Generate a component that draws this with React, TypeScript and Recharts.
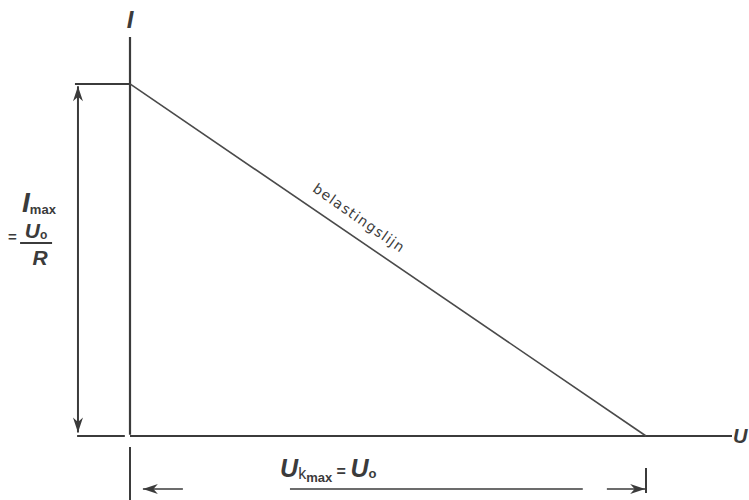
import { LineChart, Line, XAxis, YAxis, ReferenceLine, ReferenceDot } from 'recharts';

// load line: from short-circuit current (U = 0) to open-circuit voltage (I = 0)
const U0 = 12;
const IMAX = 15;
const loadU = [0, U0];
const loadI = [IMAX, 0];
const uDomain = [0, 14];
const iDomain = [0, 17];

const data = loadU.map((u, k) => ({ u, i: loadI[k] }));

const INK = '#3b3b3b';
const FONT = '"Liberation Sans", Arial, sans-serif';

// line with optional filled arrowheads at either end
const arrowLine = (start: boolean, end: boolean, width = 2) => (p: any) => {
  const { x1, y1, x2, y2 } = p;
  const len = Math.hypot(x2 - x1, y2 - y1) || 1;
  const ux = (x2 - x1) / len;
  const uy = (y2 - y1) / len;
  const head = (tx: number, ty: number, dx: number, dy: number) => {
    const L = 15, W = 5;
    const bx = tx - dx * L, by = ty - dy * L;
    const nx = tx - dx * L * 0.7, ny = ty - dy * L * 0.7;
    return `${tx},${ty} ${bx - dy * W},${by + dx * W} ${nx},${ny} ${bx + dy * W},${by - dx * W}`;
  };
  return (
    <g>
      <line x1={x1} y1={y1} x2={x2} y2={y2} stroke={INK} strokeWidth={width} />
      {start && <polygon points={head(x1, y1, -ux, -uy)} fill={INK} />}
      {end && <polygon points={head(x2, y2, ux, uy)} fill={INK} />}
    </g>
  );
};

const textAt = (render: (x: number, y: number) => any) => (p: any) => render(p.cx, p.cy);

export default function App() {
  return (
    <div style={{ position: 'absolute', left: 0, top: 0, background: '#fff' }}>
      <LineChart
        width={749}
        height={500}
        data={data}
        margin={{ top: 37, right: 17, bottom: 64, left: 130 }}
      >
        <XAxis dataKey="u" type="number" domain={uDomain} hide />
        <YAxis type="number" domain={iDomain} hide />

        {/* axes */}
        <ReferenceLine segment={[{ x: uDomain[0], y: 0 }, { x: uDomain[1], y: 0 }]} stroke={INK} strokeWidth={2.2} ifOverflow="visible" />
        <ReferenceLine segment={[{ x: 0, y: 0.05 }, { x: 0, y: iDomain[1] }]} stroke={INK} strokeWidth={2.2} ifOverflow="visible" />

        {/* axis extensions */}
        <ReferenceLine segment={[{ x: -1.23, y: 0 }, { x: -0.12, y: 0 }]} stroke={INK} strokeWidth={2.2} ifOverflow="visible" />
        <ReferenceLine segment={[{ x: 0, y: -0.47 }, { x: 0, y: -2.8 }]} stroke={INK} strokeWidth={2} ifOverflow="visible" />

        {/* Imax level and vertical dimension */}
        <ReferenceLine segment={[{ x: -1.28, y: IMAX }, { x: 0, y: IMAX }]} stroke={INK} strokeWidth={2} ifOverflow="visible" />
        <ReferenceLine
          segment={[{ x: -1.21, y: IMAX - 0.1 }, { x: -1.21, y: 0.15 }]}
          ifOverflow="visible"
          shape={arrowLine(true, true, 2)}
        />

        {/* horizontal dimension U_kmax */}
        <ReferenceLine segment={[{ x: 0.3, y: -2.26 }, { x: 1.23, y: -2.26 }]} ifOverflow="visible" shape={arrowLine(true, false, 1.6)} />
        <ReferenceLine segment={[{ x: 3.72, y: -2.26 }, { x: 10.53, y: -2.26 }]} stroke={INK} strokeWidth={1.6} ifOverflow="visible" />
        <ReferenceLine segment={[{ x: 11.09, y: -2.26 }, { x: U0 - 0.02, y: -2.26 }]} ifOverflow="visible" shape={arrowLine(false, true, 1.6)} />
        <ReferenceLine segment={[{ x: U0, y: -1.36 }, { x: U0, y: -2.43 }]} stroke={INK} strokeWidth={2} ifOverflow="visible" />

        <Line
          dataKey="i"
          stroke="#4a4a4a"
          strokeWidth={1.6}
          dot={false}
          isAnimationActive={false}
        />

        {/* axis names */}
        <ReferenceDot x={0} y={17.38} r={1} ifOverflow="visible" shape={textAt((x, y) => (
          <text x={x} y={y} textAnchor="middle" fontFamily={FONT} fontStyle="italic" fontWeight="bold" fontSize={24} fill={INK}>I</text>
        ))} />
        <ReferenceDot x={14} y={-0.3} r={1} ifOverflow="visible" shape={textAt((x, y) => (
          <text x={x + 1} y={y} fontFamily={FONT} fontStyle="italic" fontWeight="bold" fontSize={20} fill={INK}>U</text>
        ))} />

        {/* Imax = U0 / R */}
        <ReferenceDot x={-2.51} y={9.54} r={1} ifOverflow="visible" shape={textAt((x, y) => (
          <g fill={INK} fontFamily={FONT} fontWeight="bold">
            <text x={x} y={y} fontStyle="italic" fontSize={28}>
              I<tspan fontSize={13} fontStyle="normal" dy={2}>max</tspan>
            </text>
            <text x={x - 14} y={y + 30} fontSize={15}>=</text>
            <text x={x + 14} y={y + 26} textAnchor="middle" fontStyle="italic" fontSize={21}>
              U<tspan fontSize={12} fontStyle="normal" dy={1}>o</tspan>
            </text>
            <line x1={x - 2} y1={y + 31} x2={x + 30} y2={y + 31} stroke={INK} strokeWidth={2} />
            <text x={x + 18} y={y + 53} textAnchor="middle" fontStyle="italic" fontSize={21}>R</text>
          </g>
        ))} />

        {/* U_kmax = U0 */}
        <ReferenceDot x={3.49} y={-1.75} r={1} ifOverflow="visible" shape={textAt((x, y) => (
          <text x={x} y={y} fill={INK} fontFamily={FONT} fontWeight="bold">
            <tspan fontStyle="italic" fontSize={25}>U</tspan>
            <tspan fontSize={16} fontWeight="normal" dy={2}>k</tspan>
            <tspan fontSize={13} dy={3}>max</tspan>
            <tspan fontSize={16} dy={-5}> = </tspan>
            <tspan fontStyle="italic" fontSize={25}>U</tspan>
            <tspan fontSize={13} dy={1}>o</tspan>
          </text>
        ))} />

        {/* load line caption */}
        <ReferenceDot x={5.33} y={9.29} r={1} ifOverflow="visible" shape={textAt((x, y) => (
          <text
            x={x}
            y={y}
            textAnchor="middle"
            dominantBaseline="central"
            transform={`rotate(35 ${x} ${y})`}
            fontFamily='"DejaVu Sans", sans-serif'
            fontSize={14}
            letterSpacing={1.2}
            fill={INK}
          >
            belastingslijn
          </text>
        ))} />
      </LineChart>
    </div>
  );
}
